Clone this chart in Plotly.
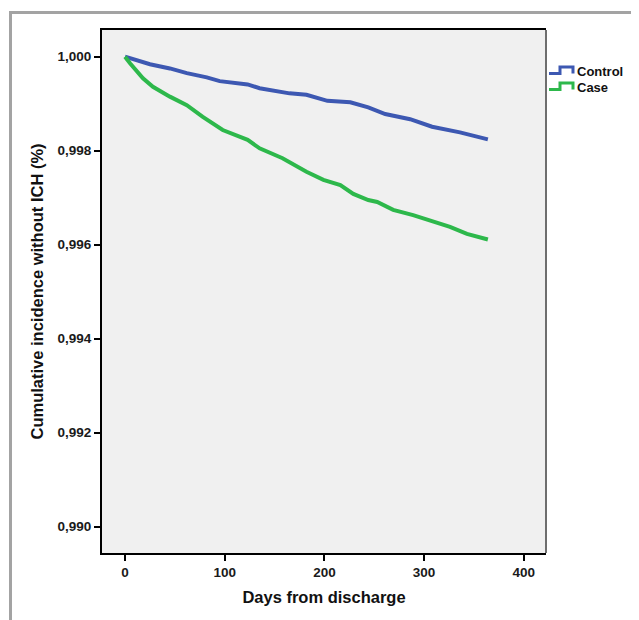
import plotly.graph_objects as go

# ---- data ----
control_days = [0, 25, 45, 62, 82, 95, 123, 135, 165, 182, 203, 226, 244, 261, 286, 308, 336, 364]
control_vals = [1.00000, 0.99984, 0.99975, 0.99965, 0.99956, 0.99948, 0.99941, 0.99933, 0.99922,
                0.99919, 0.99906, 0.99903, 0.99892, 0.99878, 0.99867, 0.99851, 0.99839, 0.99824]
case_days = [0, 5, 18, 28, 45, 62, 78, 98, 123, 135, 158, 182, 199, 216, 229, 244, 253, 269,
             289, 309, 326, 343, 364]
case_vals = [1.00000, 0.99986, 0.99954, 0.99936, 0.99915, 0.99897, 0.99872, 0.99844, 0.99823,
             0.99805, 0.99784, 0.99755, 0.99738, 0.99727, 0.99708, 0.99695, 0.99691, 0.99674,
             0.99663, 0.99649, 0.99638, 0.99623, 0.99611]
x_ticks = [0, 100, 200, 300, 400]
y_ticks = [0.990, 0.992, 0.994, 0.996, 0.998, 1.000]
series_names = ["Control", "Case"]
series_colors = ["#3D58B2", "#2DB84B"]

OFF = 8  # page body margin
W, H = 639 - OFF, 620 - OFF
L, R, T, B = 102 - OFF, 546 - OFF, 30 - OFF, 553 - OFF


def px(x):
    return (x - OFF - L) / (R - L)


def py(y):
    return (B - (y - OFF)) / (B - T)


fig = go.Figure()
fig.add_trace(go.Scatter(x=control_days, y=control_vals, mode="lines", name=series_names[0],
                         line=dict(color=series_colors[0], width=4), showlegend=False))
fig.add_trace(go.Scatter(x=case_days, y=case_vals, mode="lines", name=series_names[1],
                         line=dict(color=series_colors[1], width=4), showlegend=False))

tickfont = dict(family="Liberation Sans, Arial, sans-serif", size=13.5, color="#1a1a1a", weight="bold")
titlefont = dict(family="Liberation Sans, Arial, sans-serif", size=16.5, color="#111111", weight="bold")

fig.update_layout(
    width=W, height=H,
    margin=dict(l=L, r=W - R, t=T, b=H - B),
    paper_bgcolor="white",
    plot_bgcolor="#f0f0f0",
    separators=",.",
    xaxis=dict(range=[-23.1, 422.3], tickvals=x_ticks, ticks="outside", ticklen=6, tickwidth=2,
               tickcolor="black", showgrid=False, zeroline=False, showline=True, linecolor="black",
               linewidth=2, mirror=True, tickfont=tickfont,
               title=dict(text="Days from discharge", font=titlefont, standoff=12)),
    yaxis=dict(range=[0.98944, 1.000568], tickvals=y_ticks, tickformat=".3f", ticks="outside",
               ticklen=6, tickwidth=2, tickcolor="black", showgrid=False, zeroline=False,
               showline=True, linecolor="black", linewidth=2, tickfont=tickfont,
               title=dict(text="Cumulative incidence without ICH (%)", font=titlefont, standoff=10)),
)

shapes = []
# right plot border (grey)
shapes.append(dict(type="line", xref="paper", yref="paper", x0=1, x1=1, y0=0, y1=1,
                   line=dict(color="#6e6e6e", width=2)))
# outer grey frame
shapes.append(dict(type="line", xref="paper", yref="paper", x0=px(10.5), x1=px(10.5),
                   y0=py(11), y1=py(640), line=dict(color="#a3a3a3", width=3)))
shapes.append(dict(type="line", xref="paper", yref="paper", x0=px(9), x1=px(660),
                   y0=py(12.5), y1=py(12.5), line=dict(color="#a3a3a3", width=3)))

# legend with step symbols
legend_rows = [(73.5, 67, 71.5), (89.5, 83, 87.5)]
annotations = []
for (ylow, yhigh, ytext), name, col in zip(legend_rows, series_names, series_colors):
    path = "M {:.5f} {:.5f} L {:.5f} {:.5f} L {:.5f} {:.5f} L {:.5f} {:.5f} L {:.5f} {:.5f}".format(
        px(549), py(ylow), px(560), py(ylow), px(560), py(yhigh), px(573), py(yhigh), px(573), py(ylow))
    shapes.append(dict(type="path", xref="paper", yref="paper", path=path,
                       line=dict(color=col, width=3)))
    annotations.append(dict(xref="paper", yref="paper", x=px(575), y=py(ytext), xanchor="left",
                            yanchor="middle", text=name, showarrow=False,
                            font=dict(family="Liberation Sans, Arial, sans-serif", size=13,
                                      color="#111111", weight="bold")))

fig.update_layout(shapes=shapes, annotations=annotations)
fig.write_html("out.html")
